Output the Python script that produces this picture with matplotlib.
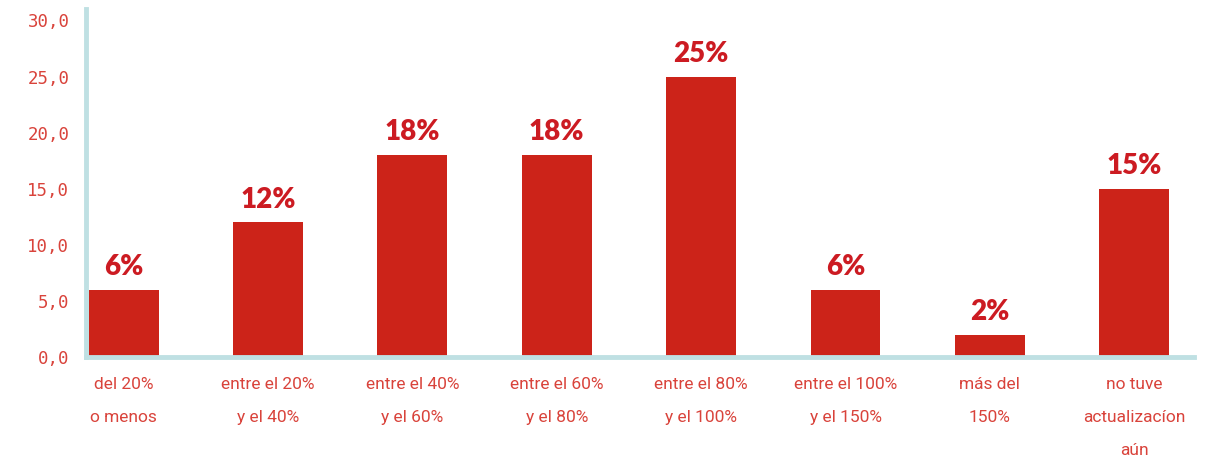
import matplotlib.pyplot as plt

# Share of respondents by salary update range
categories = [
    "del 20%\no menos",
    "entre el 20%\ny el 40%",
    "entre el 40%\ny el 60%",
    "entre el 60%\ny el 80%",
    "entre el 80%\ny el 100%",
    "entre el 100%\ny el 150%",
    "más del\n150%",
    "no tuve\nactualizacíon\naún",
]
values = [6, 12, 18, 18, 25, 6, 2, 15]
y_ticks = [0, 5, 10, 15, 20, 25, 30]

bar_color = "#cc2319"
label_color = "#cc1b22"
tick_color = "#d9433b"
spine_color = "#bfe0e3"

fig = plt.figure(figsize=(12.17, 4.62), dpi=100)
ax = fig.add_axes([0.0707, 0.227, 0.910, 0.753])

x = list(range(len(categories)))
bars = ax.bar(x, values, width=0.484, color=bar_color, zorder=2)

for xi, v in zip(x, values):
    ax.annotate(f"{v}%", (xi, v), xytext=(0, 7), textcoords="offset points",
                ha="center", va="bottom", fontsize=20, fontweight="heavy",
                family="Lato", color=label_color)

ax.set_xlim(-0.26, 7.41)
ax.set_ylim(0, 31)
ax.set_yticks(y_ticks)
ax.set_yticklabels([f"{t:.1f}".replace(".", ",") for t in y_ticks],
                   family="DejaVu Sans Mono", fontsize=12.5, color=tick_color)
ax.set_xticks(x)
ax.set_xticklabels(categories, family="Roboto", fontsize=12.5,
                   color=tick_color, linespacing=2.5)
ax.tick_params(axis="y", length=0, pad=12)
ax.tick_params(axis="x", length=0, pad=14)

for side in ["top", "right"]:
    ax.spines[side].set_visible(False)
for side in ["left", "bottom"]:
    ax.spines[side].set_color(spine_color)
    ax.spines[side].set_linewidth(3.5)
    ax.spines[side].set_zorder(3)

fig.savefig("out.png", dpi=100)
